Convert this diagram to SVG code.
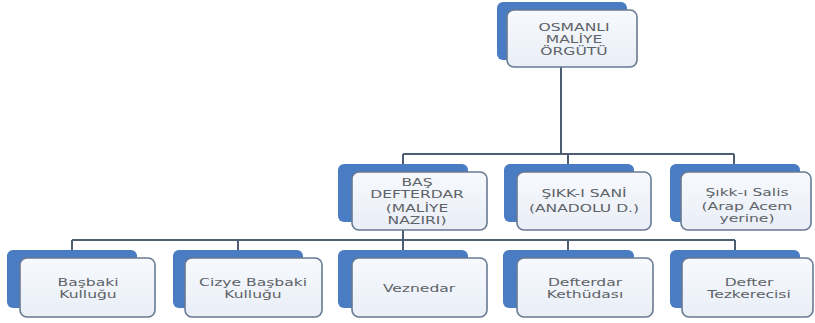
<svg xmlns="http://www.w3.org/2000/svg" width="815" height="323" viewBox="0 0 815 323">
<defs>
<linearGradient id="wg" x1="0" y1="0" x2="0" y2="1">
<stop offset="0" stop-color="#f7f9fd"/>
<stop offset="1" stop-color="#e9eef7"/>
</linearGradient>
</defs>
<style>
.back{fill:#4a7cc3;}
.front{fill:url(#wg);stroke:#687a92;stroke-width:1.6;}
.lbl{font-family:"DejaVu Sans","Liberation Sans",sans-serif;font-size:10.5px;fill:#5e6368;text-anchor:middle;}
.conn{fill:none;stroke:#4d5d72;stroke-width:2;}
</style>
<rect width="815" height="323" fill="#ffffff"/>
<g id="connectors" class="conn">
<path d="M561 67V154M403 154H734M403 154V164M568 154V164M734 154V164"/>
<path d="M403 230V240M72 240H735M72 240V250M238 240V250M403 240V250M568 240V250M735 240V250"/>
</g>
<g id="n-osmanli">
<rect class="back" x="497" y="2" width="130" height="58" rx="6"/>
<rect class="front" x="507" y="10" width="130" height="57" rx="7"/>
<text class="lbl" transform="translate(574 0) scale(1.48 1)"><tspan x="0" y="31">OSMANLI</tspan><tspan x="0" y="43">MALİYE</tspan><tspan x="0" y="55">ÖRGÜTÜ</tspan></text>
</g>
<g id="n-basdefterdar">
<rect class="back" x="338" y="164" width="130" height="58" rx="6"/>
<rect class="front" x="352" y="172" width="135" height="58" rx="7"/>
<text class="lbl" transform="translate(417 0) scale(1.48 1)"><tspan x="0" y="186">BAŞ</tspan><tspan x="0" y="198">DEFTERDAR</tspan><tspan x="0" y="212">(MALİYE</tspan><tspan x="0" y="224">NAZIRI)</tspan></text>
</g>
<g id="n-sikkisani">
<rect class="back" x="504" y="164" width="130" height="58" rx="6"/>
<rect class="front" x="517" y="172" width="134" height="58" rx="7"/>
<text class="lbl" transform="translate(584 0) scale(1.48 1)"><tspan x="0" y="197">ŞIKK-I SANİ</tspan><tspan x="0" y="212">(ANADOLU D.)</tspan></text>
</g>
<g id="n-sikkisalis">
<rect class="back" x="670" y="164" width="130" height="58" rx="6"/>
<rect class="front" x="681" y="172" width="130" height="58" rx="7"/>
<text class="lbl" transform="translate(747 0) scale(1.48 1)"><tspan x="0" y="196">Şıkk-ı Salis</tspan><tspan x="0" y="210">(Arap Acem</tspan><tspan x="0" y="222">yerine)</tspan></text>
</g>
<g id="n-basbaki">
<rect class="back" x="7" y="250" width="130" height="58" rx="6"/>
<rect class="front" x="20" y="258" width="135" height="59" rx="7"/>
<text class="lbl" transform="translate(88 0) scale(1.48 1)"><tspan x="0" y="286">Başbaki</tspan><tspan x="0" y="298">Kulluğu</tspan></text>
</g>
<g id="n-cizye">
<rect class="back" x="173" y="250" width="130" height="58" rx="6"/>
<rect class="front" x="185" y="258" width="137" height="59" rx="7"/>
<text class="lbl" transform="translate(253 0) scale(1.48 1)"><tspan x="0" y="286">Cizye Başbaki</tspan><tspan x="0" y="298">Kulluğu</tspan></text>
</g>
<g id="n-veznedar">
<rect class="back" x="338" y="250" width="130" height="58" rx="6"/>
<rect class="front" x="352" y="258" width="135" height="59" rx="7"/>
<text class="lbl" transform="translate(419 0) scale(1.48 1)"><tspan x="0" y="292">Veznedar</tspan></text>
</g>
<g id="n-kethuda">
<rect class="back" x="503" y="250" width="131" height="58" rx="6"/>
<rect class="front" x="517" y="258" width="136" height="59" rx="7"/>
<text class="lbl" transform="translate(585 0) scale(1.48 1)"><tspan x="0" y="286">Defterdar</tspan><tspan x="0" y="298">Kethüdası</tspan></text>
</g>
<g id="n-tezkereci">
<rect class="back" x="670" y="250" width="130" height="58" rx="6"/>
<rect class="front" x="682" y="258" width="131" height="59" rx="7"/>
<text class="lbl" transform="translate(749 0) scale(1.48 1)"><tspan x="0" y="286">Defter</tspan><tspan x="0" y="298">Tezkerecisi</tspan></text>
</g>
</svg>
